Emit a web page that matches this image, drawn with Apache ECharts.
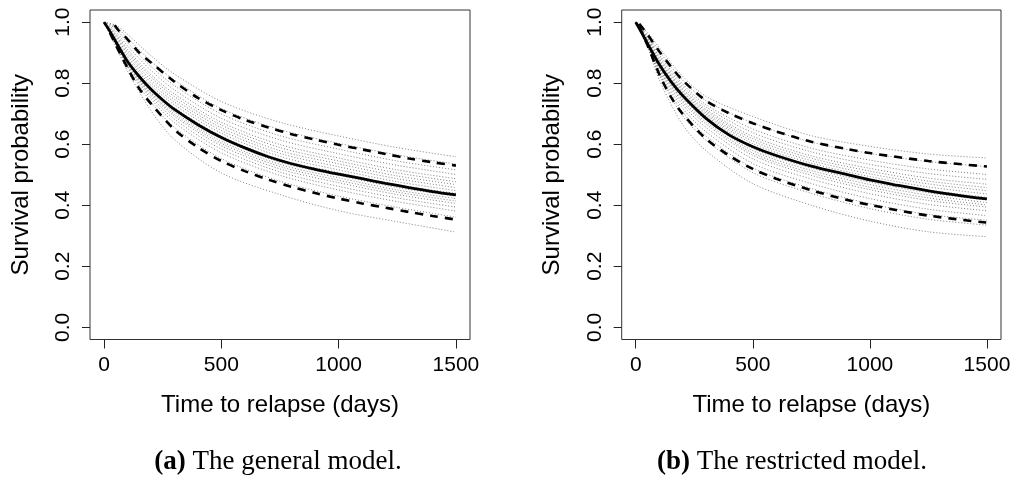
<!DOCTYPE html>
<html>
<head>
<meta charset="utf-8">
<script src="https://cdn.jsdelivr.net/npm/echarts@6/dist/echarts.min.js"></script>
<style>html,body{margin:0;padding:0;background:#fff;}#c{width:1014px;height:491px;}</style>
</head>
<body>
<div id="c"></div>
<script>
// ---------- data ----------
const xTicks = [0, 500, 1000, 1500];
const yTicks = [0, 0.2, 0.4, 0.6, 0.8, 1.0];
const xTitle = 'Time to relapse (days)';
const yTitle = 'Survival probability';
const captionA = ['(a)', 'The general model.'];
const captionB = ['(b)', 'The restricted model.'];

// grid of times for the grey bootstrap curves
const tGrid = [0, 50, 100, 200, 300, 500, 750, 1000, 1250, 1500];

// ---- panel (a): general model ----
const solidA_t = [0, 25, 50, 100, 150, 200, 250, 300, 400, 500, 600, 700, 800, 900, 1000, 1100, 1200, 1300, 1400, 1500];
const solidA_s = [1, 0.97, 0.936, 0.871, 0.822, 0.78, 0.745, 0.714, 0.664, 0.622, 0.588, 0.559, 0.536, 0.518, 0.502, 0.487, 0.472, 0.458, 0.445, 0.434];
const upperA_t = [45, 60, 100, 150, 200, 300, 400, 500, 600, 700, 800, 900, 1000, 1100, 1200, 1300, 1400, 1500];
const upperA_s = [0.99, 0.975, 0.944, 0.90, 0.868, 0.805, 0.752, 0.712, 0.68, 0.655, 0.633, 0.615, 0.598, 0.583, 0.568, 0.553, 0.541, 0.53];
const lowerA_t = [25, 50, 100, 150, 200, 300, 400, 500, 600, 700, 800, 900, 1000, 1100, 1200, 1300, 1400, 1500];
const lowerA_s = [0.965, 0.925, 0.85, 0.782, 0.733, 0.648, 0.59, 0.545, 0.512, 0.484, 0.46, 0.44, 0.422, 0.406, 0.392, 0.378, 0.365, 0.353];
const greyA = [
  [1, 0.99, 0.96, 0.89, 0.83, 0.74, 0.672, 0.627, 0.589, 0.559],
  [1, 0.985, 0.948, 0.872, 0.81, 0.717, 0.648, 0.603, 0.565, 0.535],
  [1, 0.978, 0.933, 0.855, 0.792, 0.699, 0.628, 0.584, 0.545, 0.516],
  [1, 0.970, 0.922, 0.842, 0.778, 0.685, 0.614, 0.569, 0.531, 0.501],
  [1, 0.963, 0.911, 0.828, 0.765, 0.672, 0.599, 0.555, 0.516, 0.487],
  [1, 0.958, 0.904, 0.82, 0.756, 0.663, 0.589, 0.545, 0.506, 0.477],
  [1, 0.953, 0.897, 0.811, 0.747, 0.654, 0.579, 0.536, 0.496, 0.468],
  [1, 0.948, 0.889, 0.802, 0.738, 0.645, 0.57, 0.526, 0.487, 0.458],
  [1, 0.943, 0.882, 0.793, 0.729, 0.636, 0.56, 0.516, 0.477, 0.448],
  [1, 0.938, 0.875, 0.784, 0.72, 0.627, 0.55, 0.507, 0.467, 0.439],
  [1, 0.935, 0.87, 0.778, 0.712, 0.618, 0.541, 0.498, 0.458, 0.43],
  [1, 0.934, 0.868, 0.773, 0.705, 0.61, 0.534, 0.49, 0.45, 0.422],
  [1, 0.933, 0.866, 0.768, 0.698, 0.603, 0.527, 0.482, 0.443, 0.414],
  [1, 0.932, 0.864, 0.764, 0.692, 0.595, 0.519, 0.474, 0.435, 0.406],
  [1, 0.931, 0.861, 0.757, 0.682, 0.584, 0.509, 0.462, 0.424, 0.394],
  [1, 0.929, 0.857, 0.749, 0.671, 0.572, 0.498, 0.45, 0.412, 0.381],
  [1, 0.926, 0.852, 0.738, 0.655, 0.553, 0.479, 0.43, 0.393, 0.361],
  [1, 0.92, 0.84, 0.71, 0.615, 0.506, 0.435, 0.382, 0.346, 0.312]
];

// ---- panel (b): restricted model ----
const solidB_t = [0, 25, 50, 100, 150, 200, 300, 400, 500, 600, 750, 900, 1000, 1100, 1250, 1400, 1500];
const solidB_s = [1, 0.966, 0.93, 0.862, 0.806, 0.76, 0.685, 0.63, 0.592, 0.563, 0.528, 0.501, 0.483, 0.468, 0.447, 0.43, 0.421];
const upperB_t = [15, 50, 100, 150, 200, 300, 400, 500, 600, 750, 900, 1000, 1250, 1500];
const upperB_s = [0.995, 0.96, 0.905, 0.855, 0.81, 0.743, 0.701, 0.669, 0.642, 0.608, 0.585, 0.571, 0.545, 0.527];
const lowerB_t = [15, 50, 100, 150, 200, 300, 400, 500, 600, 750, 900, 1000, 1250, 1500];
const lowerB_s = [0.985, 0.925, 0.83, 0.755, 0.70, 0.618, 0.562, 0.519, 0.487, 0.449, 0.418, 0.401, 0.366, 0.343];
const greyB = [
  [1, 0.967, 0.917, 0.823, 0.757, 0.691, 0.628, 0.593, 0.568, 0.555],
  [1, 0.96, 0.905, 0.81, 0.743, 0.67, 0.607, 0.57, 0.543, 0.527],
  [1, 0.954, 0.894, 0.798, 0.73, 0.65, 0.587, 0.548, 0.519, 0.501],
  [1, 0.95, 0.887, 0.79, 0.722, 0.638, 0.575, 0.534, 0.504, 0.485],
  [1, 0.946, 0.88, 0.783, 0.714, 0.626, 0.562, 0.521, 0.489, 0.469],
  [1, 0.944, 0.876, 0.778, 0.709, 0.618, 0.554, 0.512, 0.479, 0.458],
  [1, 0.941, 0.871, 0.773, 0.703, 0.61, 0.546, 0.503, 0.47, 0.448],
  [1, 0.939, 0.867, 0.768, 0.698, 0.602, 0.538, 0.494, 0.46, 0.437],
  [1, 0.936, 0.862, 0.763, 0.693, 0.594, 0.53, 0.485, 0.45, 0.426],
  [1, 0.935, 0.859, 0.757, 0.687, 0.586, 0.522, 0.476, 0.441, 0.417],
  [1, 0.934, 0.856, 0.751, 0.68, 0.579, 0.514, 0.468, 0.433, 0.409],
  [1, 0.933, 0.853, 0.745, 0.673, 0.571, 0.506, 0.459, 0.424, 0.401],
  [1, 0.932, 0.85, 0.739, 0.666, 0.564, 0.498, 0.451, 0.416, 0.394],
  [1, 0.93, 0.845, 0.73, 0.655, 0.552, 0.486, 0.438, 0.403, 0.382],
  [1, 0.928, 0.839, 0.718, 0.641, 0.537, 0.471, 0.422, 0.387, 0.366],
  [1, 0.926, 0.833, 0.706, 0.627, 0.522, 0.455, 0.405, 0.37, 0.351],
  [1, 0.924, 0.827, 0.694, 0.613, 0.507, 0.439, 0.389, 0.354, 0.335],
  [1, 0.919, 0.812, 0.665, 0.579, 0.471, 0.4, 0.348, 0.313, 0.297]
];

// ---------- chart ----------
const SANS = '"Liberation Sans", Arial, sans-serif';
const SERIF = '"Liberation Serif", "DejaVu Serif", serif';
const zip = (xs, ys) => xs.map((x, i) => [x, ys[i]]);

function xAxisFor(idx) {
  return {
    gridIndex: idx, type: 'value', min: -60, max: 1560,
    name: xTitle, nameLocation: 'middle', nameGap: 54,
    nameTextStyle: { fontFamily: SANS, fontSize: 24, color: '#000' },
    axisLine: { show: false, onZero: false },
    axisTick: { show: true, inside: false, length: 9, customValues: xTicks, lineStyle: { color: '#222', width: 1 } },
    axisLabel: { show: true, customValues: xTicks, margin: 15, fontFamily: SANS, fontSize: 21, color: '#000',
      formatter: v => String(v) },
    splitLine: { show: false }
  };
}
function yAxisFor(idx) {
  return {
    gridIndex: idx, type: 'value', min: -0.04, max: 1.04,
    name: yTitle, nameLocation: 'middle', nameGap: 57, nameRotate: 90,
    nameTextStyle: { fontFamily: SANS, fontSize: 24, color: '#000' },
    axisLine: { show: false, onZero: false },
    axisTick: { show: true, inside: false, length: 8, customValues: yTicks, lineStyle: { color: '#222', width: 1 } },
    axisLabel: { show: true, customValues: yTicks, rotate: 90, margin: 16, fontFamily: SANS, fontSize: 21, color: '#000',
      formatter: v => v.toFixed(1) },
    splitLine: { show: false }
  };
}

const series = [];
function addPanel(idx, grey, st, ss, ut, us, lt, ls) {
  grey.forEach(g => series.push({
    type: 'line', xAxisIndex: idx, yAxisIndex: idx, data: zip(tGrid, g),
    smooth: 0.3, showSymbol: false, silent: true,
    lineStyle: { color: '#808080', width: 1, type: [1, 2] }, z: 1
  }));
  [[ut, us], [lt, ls]].forEach(([t, s]) => series.push({
    type: 'line', xAxisIndex: idx, yAxisIndex: idx, data: zip(t, s),
    smooth: 0.3, showSymbol: false, silent: true,
    lineStyle: { color: '#000', width: 2.6, type: [8, 7] }, z: 3
  }));
  series.push({
    type: 'line', xAxisIndex: idx, yAxisIndex: idx, data: zip(st, ss),
    smooth: 0.3, showSymbol: false, silent: true,
    lineStyle: { color: '#000', width: 2.8 }, z: 4
  });
}
addPanel(0, greyA, solidA_t, solidA_s, upperA_t, upperA_s, lowerA_t, lowerA_s);
addPanel(1, greyB, solidB_t, solidB_s, upperB_t, upperB_s, lowerB_t, lowerB_s);

const chart = echarts.init(document.getElementById('c'), null, { renderer: 'canvas' });
chart.setOption({
  animation: false,
  backgroundColor: '#fff',
  grid: [
    { left: 90, top: 10, width: 380, height: 329.5, show: true, borderColor: '#333', borderWidth: 1, backgroundColor: 'transparent' },
    { left: 621.7, top: 10, width: 379.3, height: 329.5, show: true, borderColor: '#333', borderWidth: 1, backgroundColor: 'transparent' }
  ],
  xAxis: [xAxisFor(0), xAxisFor(1)],
  yAxis: [yAxisFor(0), yAxisFor(1)],
  series: series,
  graphic: [
    { type: 'text', style: { x: 278, y: 462, text: '{b|' + captionA[0] + '} ' + captionA[1], align: 'center', verticalAlign: 'middle',
      font: '27px ' + SERIF, fill: '#000', rich: { b: { fontWeight: 'bold', fontSize: 27, fontFamily: SERIF } } } },
    { type: 'text', style: { x: 792, y: 462, text: '{b|' + captionB[0] + '} ' + captionB[1], align: 'center', verticalAlign: 'middle',
      font: '27px ' + SERIF, fill: '#000', rich: { b: { fontWeight: 'bold', fontSize: 27, fontFamily: SERIF } } } }
  ]
});
</script>
</body>
</html>
